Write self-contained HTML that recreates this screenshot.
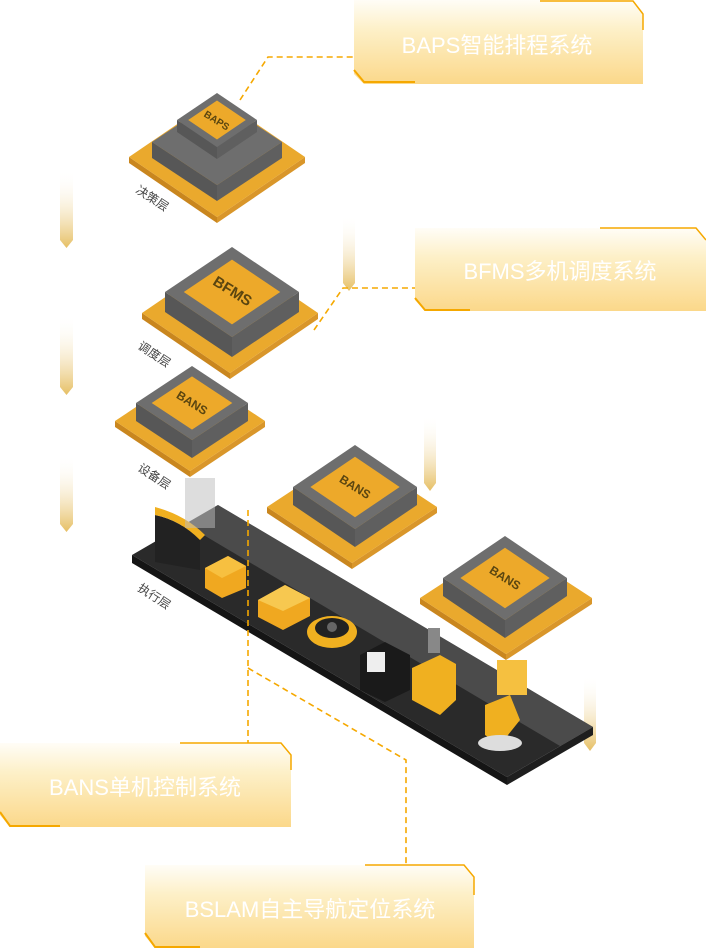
<!DOCTYPE html>
<html><head><meta charset="utf-8"><style>
html,body{margin:0;padding:0;background:#fff;}
svg{display:block;}
.lbl{font-family:"Liberation Sans","Noto Sans CJK SC",sans-serif;fill:#fff;font-size:22px;}
.ly{font-family:"Liberation Sans","Noto Sans CJK SC",sans-serif;fill:#444;font-size:12px;}
.cl{font-family:"Liberation Sans",sans-serif;fill:#5a4510;font-weight:bold;}
</style></head><body>
<svg id="s" width="706" height="949" viewBox="0 0 706 949" xmlns="http://www.w3.org/2000/svg">
<defs>
<linearGradient id="bx" x1="0" y1="0" x2="0" y2="1">
<stop offset="0" stop-color="#fffdf7"/><stop offset="0.35" stop-color="#fdf0c8"/><stop offset="1" stop-color="#fbd88a"/></linearGradient>
<linearGradient id="bar" x1="0" y1="0" x2="0" y2="1">
<stop offset="0" stop-color="#fff" stop-opacity="0"/><stop offset="1" stop-color="#e6bf63"/></linearGradient>
</defs>

<g fill="url(#bar)">
<path d="M60 170h13v70l-6.5 8l-6.5-8z"/>
<path d="M60 315h13v72l-6.5 8l-6.5-8z"/>
<path d="M60 455h13v69l-6.5 8l-6.5-8z"/>
<path d="M343 215h12v68l-6 8l-6-8z"/>
<path d="M424 415h12v68l-6 8l-6-8z"/>
<path d="M584 675h12v68l-6 8l-6-8z"/>
</g>

<!-- platform -->
<polygon points="132,555 218,505 593,727 507,777" fill="#2a2a2a"/>
<polygon points="132,555 507,777 507,785 132,563" fill="#151515"/>
<polygon points="507,777 593,727 593,735 507,785" fill="#1e1e1e"/>
<polygon points="218,505 593,727 560,746 185,524" fill="#5a5a5a" opacity="0.7"/>

<g id="chips"></g>

<!-- robots -->
<g>
<path d="M155 515 q25 5 45 25 v30 l-45-8z" fill="#222"/><path d="M155 515 q25 5 45 25 l5-5 q-20-20-50-28z" fill="#f0b020"/>
<rect x="185" y="478" width="30" height="50" fill="#bbb" opacity="0.5"/>
<polygon points="205,568 228,556 246,566 246,588 222,598 205,588" fill="#f0a820"/>
<polygon points="205,568 228,556 246,566 222,578" fill="#f7c040"/>
<polygon points="258,600 285,585 310,598 310,616 283,630 258,617" fill="#f0a820"/>
<polygon points="258,600 285,585 310,598 283,611" fill="#f7c850"/>
<ellipse cx="332" cy="632" rx="25" ry="16" fill="#f0b020"/><ellipse cx="332" cy="628" rx="17" ry="10" fill="#222"/><circle cx="332" cy="627" r="5" fill="#666"/>
<polygon points="360,655 385,642 410,655 410,690 385,702 360,690" fill="#1a1a1a"/>
<rect x="367" y="652" width="18" height="20" fill="#eee"/>
<polygon points="412,668 440,655 456,664 456,700 440,715 412,700" fill="#f0b020"/>
<rect x="428" y="628" width="12" height="25" fill="#888"/>
<polygon points="485,705 510,695 520,720 500,745 485,735" fill="#f0b020"/>
<rect x="497" y="660" width="30" height="35" fill="#f5c040"/>
<ellipse cx="500" cy="743" rx="22" ry="8" fill="#ddd"/>
</g>

<text class="ly" x="135" y="192" transform="rotate(33 135 192)">决策层</text>
<text class="ly" x="137" y="348" transform="rotate(33 137 348)">调度层</text>
<text class="ly" x="137" y="470" transform="rotate(33 137 470)">设备层</text>
<text class="ly" x="137" y="590" transform="rotate(33 137 590)">执行层</text>

<g stroke="#f5a800" stroke-width="1.6" stroke-dasharray="6,4" fill="none">
<polyline points="240,100 268,57 354,57"/>
<polyline points="314,330 343,288 415,288"/>
<line x1="248" y1="510" x2="248" y2="743"/>
<polyline points="248,668 406,760 406,865"/>
</g>

<g>
<path d="M354 0 H633 L643 12 V84 H364 L354 74 Z" fill="url(#bx)"/>
<path d="M540 1 H633 L643 14 V30" stroke="#f5a800" stroke-width="1.5" fill="none"/>
<path d="M354 70 L364 82 H415" stroke="#f5a800" stroke-width="2" fill="none"/>
<text class="lbl" x="497" y="53" text-anchor="middle">BAPS智能排程系统</text>

<path d="M415 228 H696 L706 240 V311 H425 L415 300 Z" fill="url(#bx)"/>
<path d="M600 228 H696 L706 240" stroke="#f5a800" stroke-width="1.5" fill="none"/>
<path d="M415 298 L425 310 H470" stroke="#f5a800" stroke-width="2" fill="none"/>
<text class="lbl" x="560" y="279" text-anchor="middle">BFMS多机调度系统</text>

<path d="M0 743 H281 L291 755 V827 H10 L0 815 Z" fill="url(#bx)"/>
<path d="M180 743 H281 L291 755 V770" stroke="#f5a800" stroke-width="1.5" fill="none"/>
<path d="M0 812 L10 826 H60" stroke="#f5a800" stroke-width="2" fill="none"/>
<text class="lbl" x="145" y="795" text-anchor="middle">BANS单机控制系统</text>

<path d="M145 865 H464 L474 877 V948 H155 L145 936 Z" fill="url(#bx)"/>
<path d="M365 865 H464 L474 877 V895" stroke="#f5a800" stroke-width="1.5" fill="none"/>
<path d="M145 933 L155 947 H200" stroke="#f5a800" stroke-width="2" fill="none"/>
<text class="lbl" x="310" y="917" text-anchor="middle">BSLAM自主导航定位系统</text>
</g>
</svg>
<script>
(function(){
var out='';
function P(pts,f){out+='<polygon points="'+pts.map(function(p){return p[0]+','+p[1]}).join(' ')+'" fill="'+f+'"/>';}
function slab(cx,cy,hw,hh,h,top,l,r){
 P([[cx-hw,cy],[cx,cy+hh],[cx,cy+hh+h],[cx-hw,cy+h]],l);
 P([[cx,cy+hh],[cx+hw,cy],[cx+hw,cy+h],[cx,cy+hh+h]],r);
 P([[cx-hw,cy],[cx,cy-hh],[cx+hw,cy],[cx,cy+hh]],top);
}
function chip(px,py,phw,phh,bx,by,bhw,bhh,lift,label,fs,upper){
 slab(px,py,phw,phh,6,'#eaa92d','#c9861e','#d9962a');
 slab(bx,by,bhw,bhh,lift,'#6e6e6e','#575757','#5f5f5f');
 var tx=bx,ty=by;
 if(upper){slab(upper[0],upper[1],upper[2],upper[3],upper[4],'#6e6e6e','#575757','#5f5f5f');tx=upper[0];ty=upper[1];bhw=upper[2];bhh=upper[3];}
 P([[tx-bhw*0.72,ty],[tx,ty-bhh*0.72],[tx+bhw*0.72,ty],[tx,ty+bhh*0.72]],'#eda92a');
 out+='<text class="cl" font-size="'+fs+'" x="'+tx+'" y="'+(ty+4)+'" text-anchor="middle" transform="rotate(32 '+tx+' '+ty+')">'+label+'</text>';
}
chip(217,157,88,60, 217,142,65,43,16,'BAPS',10,[217,120,40,27,12]);
chip(230,313,88,60, 232,292,67,45,20,'BFMS',15);
chip(190,421,75,50, 192,403,56,37,18,'BANS',12);
chip(352,507,85,56, 355,487,62,42,18,'BANS',12);
chip(506,598,86,56, 505,578,62,42,18,'BANS',12);
document.getElementById('chips').innerHTML=out;
})();
</script>
</body></html>
